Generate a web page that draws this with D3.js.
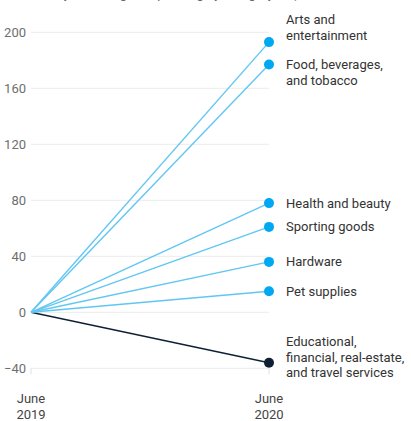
<!DOCTYPE html>
<html><head><meta charset="utf-8">
<script src="https://cdn.jsdelivr.net/npm/d3@7"></script>
<style>
body{margin:0;background:#fff;}
svg text{font-family:Roboto, "Noto Sans", sans-serif;}
</style></head>
<body><svg id="c" width="411" height="421"></svg>
<script>
const periods = ["June\n2019", "June\n2020"];
const categories = ["Arts and\nentertainment", "Food, beverages,\nand tobacco", "Health and beauty", "Sporting goods", "Hardware", "Pet supplies", "Educational,\nfinancial, real-estate,\nand travel services"];
const startValues = [0, 0, 0, 0, 0, 0, 0];
const endValues = [193, 177, 78, 61, 36, 15, -36];
const yTicks = [-40, 0, 40, 80, 120, 160, 200];
const title = "Year-over-year change in spending by category, % (June 2019 to June 2020)";
const seriesColors = ["#62c6f2","#62c6f2","#62c6f2","#62c6f2","#62c6f2","#62c6f2","#0f2034"];
const dotColors = ["#00a8f2","#00a8f2","#00a8f2","#00a8f2","#00a8f2","#00a8f2","#0f2034"];
// label vertical offsets (in lines) relative to dot
const labelShift = [-1.45, 0, 0, 0, 0, 0, -1.35];

const svg = d3.select("#c");
const x = d3.scalePoint().domain(periods).range([31, 269]);
const y = d3.scaleLinear().domain([-40, 200]).range([368.3, 32.3]);

svg.append("text").attr("x", 6).attr("y", -2).attr("fill", "#666").attr("font-size", 13).text(title);

// gridlines
svg.append("g").selectAll("line").data(yTicks).join("line")
  .attr("x1", 31).attr("x2", 269)
  .attr("y1", d => y(d)).attr("y2", d => y(d))
  .attr("stroke", "#ebebeb").attr("stroke-width", 1);

// y axis labels
const yAxis = d3.axisLeft(y).tickValues(yTicks).tickSize(0).tickPadding(5)
  .tickFormat(d => d < 0 ? "\u2212" + Math.abs(d) : d);
const ga = svg.append("g").attr("transform", "translate(31,0)").call(yAxis);
ga.select(".domain").remove();
ga.selectAll("text").attr("fill", "#6e6e6e").attr("font-size", 13).attr("font-family", "Roboto, sans-serif");

// x ticks
periods.forEach(p => {
  svg.append("line").attr("x1", x(p)).attr("x2", x(p)).attr("y1", y(-40)).attr("y2", y(-40) + 6)
    .attr("stroke", "#e0e0e0");
  const t = svg.append("text").attr("x", x(p)).attr("text-anchor", "middle")
    .attr("fill", "#444").attr("font-size", 13);
  p.split("\n").forEach((s, i) => t.append("tspan").attr("x", x(p)).attr("y", 402.5 + i * 16).text(s));
});

// lines
const order = d3.range(categories.length).reverse();
svg.append("g").selectAll("line").data(order).join("line")
  .attr("x1", x(periods[0])).attr("y1", i => y(startValues[i]))
  .attr("x2", x(periods[1])).attr("y2", i => y(endValues[i]))
  .attr("stroke", i => seriesColors[i]).attr("stroke-width", 1.4);

svg.append("g").selectAll("circle").data(order).join("circle")
  .attr("cx", x(periods[1])).attr("cy", i => y(endValues[i])).attr("r", 5)
  .attr("fill", i => dotColors[i]);

// labels
categories.forEach((c, i) => {
  const t = svg.append("text").attr("fill", "#333").attr("font-size", 13);
  const lines = c.split("\n");
  const y0 = y(endValues[i]) + 4.5 + labelShift[i] * 15.5;
  lines.forEach((s, k) => t.append("tspan").attr("x", 286).attr("y", y0 + k * 15.5).text(s));
});
</script></body></html>
